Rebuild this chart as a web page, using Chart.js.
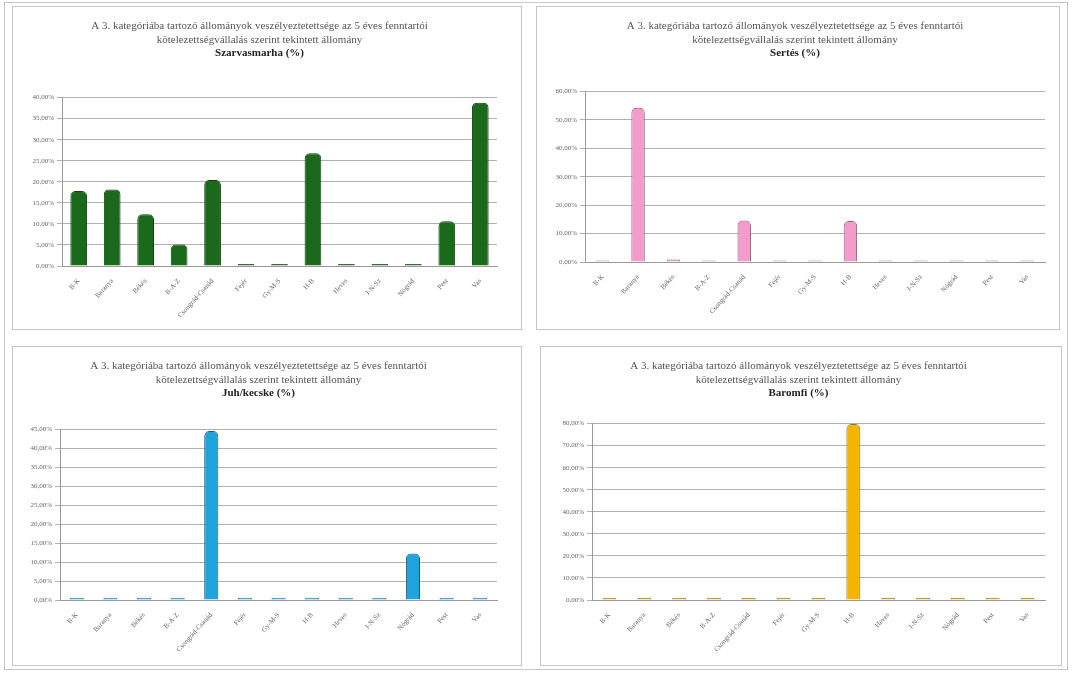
<!DOCTYPE html>
<html lang="hu">
<head>
  <meta charset="UTF-8" />
  <title>Állományok</title>
  <script src="https://cdn.jsdelivr.net/npm/chart.js"></script>
  <style>
    body {
      margin: 0;
      background: #fff;
      width: 1072px;
      height: 673px;
      position: relative;
      overflow: hidden;
      font-family: 'Liberation Serif', serif;
    }
    .frame {
      position: absolute;
      left: 4px; top: 2px; width: 1064px; height: 668px;
      border: 1px solid #c8c8c8;
      box-sizing: border-box;
    }
    .panel {
      position: absolute;
      border: 1px solid #c4c4c4;
      box-sizing: border-box;
      background: #fff;
    }
    .panel canvas { display: block; }
  </style>
</head>
<body>
  <div class="frame"></div>
  <div class="panel" style="left:12px;top:6px;width:510px;height:324px;"><canvas id="c1"></canvas></div>
  <div class="panel" style="left:536px;top:6px;width:524px;height:324px;"><canvas id="c2"></canvas></div>
  <div class="panel" style="left:12px;top:346px;width:510px;height:320px;"><canvas id="c3"></canvas></div>
  <div class="panel" style="left:540px;top:346px;width:522px;height:320px;"><canvas id="c4"></canvas></div>

  <script>
    const titleLines = [
      'A 3. kategóriába tartozó állományok veszélyeztetettsége az 5 éves fenntartói',
      'kötelezettségvállalás szerint tekintett állomány'
    ];

    const categories = ['B-K', 'Baranya', 'Békés', 'B-A-Z', 'Csongrád-Csanád', 'Fejér', 'Gy-M-S',
      'H-B', 'Heves', 'J-N-Sz', 'Nógrád', 'Pest', 'Vas'];

    // Szarvasmarha
    const cattle = [17.8, 18.2, 12.3, 5.1, 20.4, 0.5, 0.5, 26.8, 0.5, 0.5, 0.5, 10.6, 38.8];
    // Sertés
    const pigs = [0.5, 54.3, 0.9, 0.5, 14.6, 0.5, 0.5, 14.4, 0.5, 0.5, 0.5, 0.5, 0.5];
    // Juh/kecske
    const sheep = [0.6, 0.6, 0.6, 0.6, 44.6, 0.6, 0.6, 0.6, 0.6, 0.6, 12.3, 0.6, 0.6];
    // Baromfi
    const poultry = [1, 1, 1, 1, 1, 1, 1, 79.8, 1, 1, 1, 1, 1];

    const fmt = v => v.toFixed(2).replace('.', ',') + '%';

    // cfg: canvas size, plot padding, subtitle gap, bar width
    function makeChart(id, cfg) {
      const cv = document.getElementById(id);
      cv.width = cfg.w; cv.height = cfg.h;
      return new Chart(cv, {
        type: 'bar',
        data: {
          labels: categories,
          datasets: [{
            data: cfg.data,
            backgroundColor: cfg.color,
            borderColor: cfg.border,
            borderWidth: 1,
            borderRadius: { topLeft: 5, topRight: 5 },
            borderSkipped: 'bottom',
            barPercentage: cfg.bar,
            categoryPercentage: 1
          }]
        },
        options: {
          responsive: false,
          animation: false,
          layout: { padding: { left: cfg.left, right: cfg.right, top: 0, bottom: 2 } },
          plugins: {
            legend: { display: false },
            tooltip: { enabled: false },
            title: {
              display: true,
              text: titleLines,
              color: '#555',
              font: { family: 'Liberation Serif', size: 11, weight: 'normal' },
              padding: { top: 13, bottom: 0 }
            },
            subtitle: {
              display: true,
              text: cfg.sub,
              color: '#222',
              font: { family: 'Liberation Serif', size: 11, weight: 'bold' },
              padding: { top: 0, bottom: cfg.gap }
            }
          },
          scales: {
            x: {
              afterFit: s => { s.height = cfg.xh; },
              grid: { display: false },
              border: { color: '#999' },
              ticks: {
                color: '#666',
                font: { family: 'Liberation Serif', size: 7 },
                maxRotation: 48, minRotation: 48,
                autoSkip: false
              }
            },
            y: {
              min: 0, max: cfg.max,
              afterFit: s => { s.width = 40; },
              grid: { color: '#b0b0b0', lineWidth: 1, drawTicks: true, tickLength: 5 },
              border: { color: '#999' },
              ticks: {
                stepSize: cfg.step,
                color: '#666',
                font: { family: 'Liberation Serif', size: 7 },
                callback: v => fmt(v),
                padding: 3
              }
            }
          }
        }
      });
    }

    makeChart('c1', { w: 508, h: 322, left: 9, right: 24, xh: 61, gap: 38, sub: 'Szarvasmarha (%)',
      data: cattle, color: '#1b6a1b', border: '#0d400d', max: 40, step: 5, bar: 0.5 });
    makeChart('c2', { w: 522, h: 322, left: 8, right: 14, xh: 65, gap: 32, sub: 'Sertés (%)',
      data: pigs, color: '#f49bcb', border: '#8a6070', max: 60, step: 10, bar: 0.38 });
    makeChart('c3', { w: 508, h: 318, left: 7, right: 24, xh: 63, gap: 30, sub: 'Juh/kecske (%)',
      data: sheep, color: '#22a2dc', border: '#17607a', max: 45, step: 5, bar: 0.42 });
    makeChart('c4', { w: 520, h: 318, left: 11, right: 16, xh: 63, gap: 24, sub: 'Baromfi (%)',
      data: poultry, color: '#f6b400', border: '#8a7a30', max: 80, step: 10, bar: 0.4 });
  </script>
</body>
</html>
